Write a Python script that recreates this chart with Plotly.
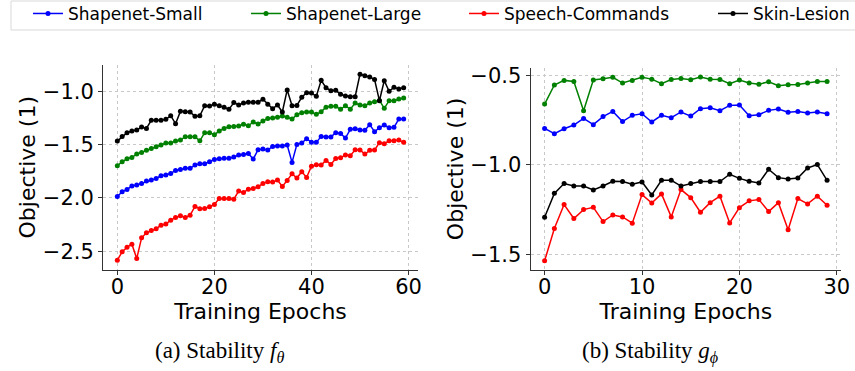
import plotly.graph_objects as go

W, H = 855, 371

# ---------------- data ----------------
epochs_f = list(range(60))
epochs_g = list(range(30))

f_shapenet_small = [-1.987, -1.943, -1.921, -1.889, -1.880, -1.864, -1.842, -1.833, -1.817, -1.792,
                    -1.786, -1.770, -1.742, -1.733, -1.723, -1.723, -1.692, -1.680, -1.680, -1.661,
                    -1.639, -1.633, -1.629, -1.629, -1.617, -1.598, -1.592, -1.583, -1.636, -1.548,
                    -1.542, -1.551, -1.517, -1.514, -1.514, -1.504, -1.667, -1.498, -1.485, -1.445,
                    -1.479, -1.479, -1.423, -1.429, -1.429, -1.388, -1.395, -1.438, -1.357, -1.351,
                    -1.363, -1.366, -1.313, -1.379, -1.341, -1.316, -1.341, -1.338, -1.260, -1.260]
f_shapenet_large = [-1.698, -1.661, -1.633, -1.620, -1.589, -1.573, -1.554, -1.536, -1.520, -1.504,
                    -1.485, -1.485, -1.467, -1.457, -1.426, -1.426, -1.426, -1.464, -1.388, -1.388,
                    -1.407, -1.373, -1.348, -1.332, -1.329, -1.326, -1.310, -1.323, -1.288, -1.307,
                    -1.279, -1.254, -1.251, -1.244, -1.232, -1.244, -1.260, -1.219, -1.200, -1.194,
                    -1.194, -1.216, -1.191, -1.150, -1.141, -1.141, -1.169, -1.135, -1.169, -1.110,
                    -1.128, -1.135, -1.110, -1.097, -1.085, -1.160, -1.088, -1.088, -1.072, -1.063]
f_speech_commands = [-2.585, -2.506, -2.463, -2.434, -2.569, -2.375, -2.328, -2.306, -2.290, -2.256,
                     -2.246, -2.209, -2.184, -2.168, -2.184, -2.162, -2.080, -2.102, -2.099, -2.084,
                     -2.062, -2.005, -2.005, -2.005, -2.012, -1.936, -1.949, -1.918, -1.911, -1.896,
                     -1.864, -1.849, -1.852, -1.833, -1.893, -1.836, -1.774, -1.814, -1.755, -1.808,
                     -1.702, -1.689, -1.692, -1.648, -1.686, -1.630, -1.623, -1.598, -1.604, -1.548,
                     -1.551, -1.589, -1.554, -1.551, -1.482, -1.492, -1.464, -1.464, -1.457, -1.479]
f_skin_lesion = [-1.467, -1.423, -1.388, -1.373, -1.363, -1.335, -1.348, -1.272, -1.272, -1.272,
                 -1.263, -1.229, -1.304, -1.188, -1.191, -1.194, -1.235, -1.229, -1.135, -1.138,
                 -1.122, -1.135, -1.150, -1.169, -1.106, -1.128, -1.110, -1.103, -1.103, -1.103,
                 -1.075, -1.122, -1.163, -1.128, -1.194, -0.987, -1.135, -1.132, -1.056, -1.013,
                 -1.016, -1.047, -0.897, -0.966, -0.994, -0.991, -1.028, -1.044, -1.050, -1.050,
                 -0.840, -0.853, -0.865, -0.890, -1.088, -0.900, -1.000, -0.962, -0.978, -0.966]

g_shapenet_small = [-0.795, -0.825, -0.797, -0.776, -0.739, -0.774, -0.729, -0.700, -0.757, -0.722,
                    -0.713, -0.759, -0.722, -0.735, -0.703, -0.726, -0.685, -0.679, -0.696, -0.666,
                    -0.664, -0.724, -0.718, -0.694, -0.687, -0.705, -0.701, -0.709, -0.703, -0.713]
g_shapenet_large = [-0.659, -0.552, -0.526, -0.532, -0.696, -0.524, -0.517, -0.509, -0.541, -0.526,
                    -0.509, -0.519, -0.545, -0.521, -0.515, -0.522, -0.507, -0.519, -0.521, -0.545,
                    -0.524, -0.541, -0.547, -0.534, -0.556, -0.550, -0.549, -0.541, -0.532, -0.532]
g_speech_commands = [-1.537, -1.356, -1.222, -1.300, -1.250, -1.237, -1.317, -1.280, -1.291, -1.326,
                     -1.166, -1.213, -1.162, -1.291, -1.138, -1.183, -1.265, -1.211, -1.175, -1.325,
                     -1.239, -1.201, -1.194, -1.261, -1.211, -1.363, -1.188, -1.218, -1.175, -1.226]
g_skin_lesion = [-1.293, -1.159, -1.104, -1.118, -1.118, -1.140, -1.118, -1.091, -1.093, -1.108,
                 -1.095, -1.168, -1.086, -1.086, -1.118, -1.104, -1.093, -1.093, -1.093, -1.052,
                 -1.075, -1.091, -1.101, -1.024, -1.071, -1.078, -1.073, -1.017, -0.998, -1.086]

series_names = ["Shapenet-Small", "Shapenet-Large", "Speech-Commands", "Skin-Lesion"]
series_colors = ["#0000ff", "#008000", "#ff0000", "#000000"]
f_series = [f_shapenet_small, f_shapenet_large, f_speech_commands, f_skin_lesion]
g_series = [g_shapenet_small, g_shapenet_large, g_speech_commands, g_skin_lesion]

x_ticks_f = [0, 20, 40, 60]
x_ticks_g = [0, 10, 20, 30]
y_ticks_f = [-2.5, -2.0, -1.5, -1.0]
y_ticks_g = [-1.5, -1.0, -0.5]
caption_a = "(a) Stability <i>f</i><sub><i>θ</i></sub>"
caption_b = "(b) Stability <i>g</i><sub><i>ϕ</i></sub>"
x_title = "Training Epochs"
y_title = "Objective (1)"

# ---------------- figure ----------------
fig = go.Figure()
legend_ids = ["legend", "legend2", "legend3", "legend4"]

for i, (name, color) in enumerate(zip(series_names, series_colors)):
    fig.add_trace(go.Scatter(
        x=epochs_f, y=f_series[i], mode="lines+markers", name=name,
        line=dict(color=color, width=1.5), marker=dict(color=color, size=5),
        xaxis="x", yaxis="y", legend=legend_ids[i], showlegend=True))
    fig.add_trace(go.Scatter(
        x=epochs_g, y=g_series[i], mode="lines+markers", name=name,
        line=dict(color=color, width=1.5), marker=dict(color=color, size=5),
        xaxis="x2", yaxis="y2", showlegend=False))

def px_x(p):
    return p / W

def px_y(p):
    return (H - p) / H

axis_common = dict(
    showline=True, linecolor="#333333", linewidth=1,
    ticks="outside", ticklen=4, tickwidth=1, tickcolor="#333333",
    showgrid=True, gridcolor="#c8c8c8", griddash="dot", gridwidth=1,
    zeroline=False, mirror=False, automargin=False,
    tickfont=dict(family="DejaVu Sans", size=21, color="#000000"),
)

fig.update_layout(
    width=W, height=H,
    margin=dict(l=0, r=0, t=0, b=0, autoexpand=False),
    paper_bgcolor="white", plot_bgcolor="white",
    font=dict(family="DejaVu Sans", color="#000000"),
    xaxis=dict(axis_common, domain=[px_x(103), px_x(418)], range=[-2.95, 61.95],
               tickvals=x_ticks_f, anchor="y", ticklabelstandoff=-6,
               title=dict(text=x_title, font=dict(size=22), standoff=0)),
    yaxis=dict(axis_common, domain=[px_y(269.5), px_y(65)], range=[-2.672, -0.753],
               tickvals=y_ticks_f, tickformat=".1f", anchor="x",
               title=dict(text=y_title, font=dict(size=22), standoff=1)),
    xaxis2=dict(axis_common, domain=[px_x(530.5), px_x(841.2)], range=[-1.45, 30.45],
                tickvals=x_ticks_g, anchor="y2", ticklabelstandoff=-6,
                title=dict(text=x_title, font=dict(size=22), standoff=0)),
    yaxis2=dict(axis_common, domain=[px_y(270), px_y(67.8)], range=[-1.5885, -0.4555],
                tickvals=y_ticks_g, tickformat=".1f", anchor="x2",
                title=dict(text=y_title, font=dict(size=22), standoff=0)),
)

legend_x = [28, 246, 464, 713]
for lid, lx in zip(legend_ids, legend_x):
    fig.update_layout({lid: dict(
        x=px_x(lx), y=1.011, xanchor="left", yanchor="top",
        orientation="h", bgcolor="rgba(0,0,0,0)", borderwidth=0,
        font=dict(family="DejaVu Sans", size=17, color="#000000"),
        itemwidth=30,
    )})

# legend frame
fig.add_shape(type="rect", xref="paper", yref="paper",
              x0=px_x(11), x1=px_x(860), y0=px_y(30), y1=px_y(1),
              line=dict(color="#d9d9d9", width=1), fillcolor="rgba(0,0,0,0)", layer="below")

# captions
for cap, cx in [(caption_a, 219), (caption_b, 650)]:
    fig.add_annotation(text=cap, xref="paper", yref="paper", x=px_x(cx), y=px_y(352),
                       xanchor="center", yanchor="middle", showarrow=False,
                       font=dict(family="Liberation Serif", size=23, color="#000000"))

fig.write_html("out.html", config={"displayModeBar": False},
               post_script="document.body.style.margin='0px';")
